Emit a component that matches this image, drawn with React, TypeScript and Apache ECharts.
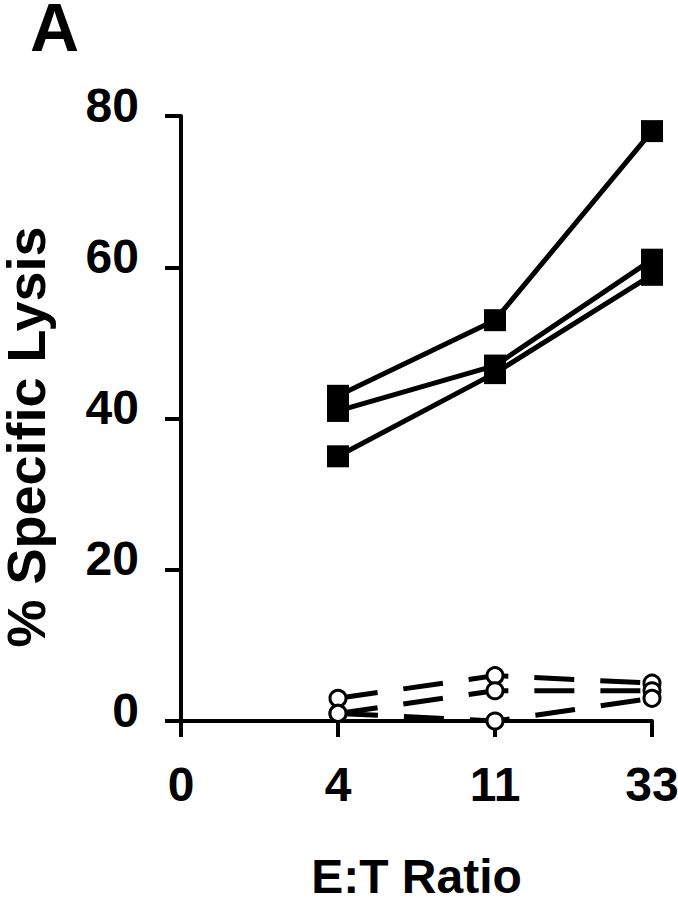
import React, { useEffect, useRef } from "react";
import * as echarts from "echarts";

const categories = ["0", "4", "11", "33"];
const yTicks = [0, 20, 40, 60, 80];

// filled squares, solid lines
const solidA = [null, 43, 53, 78];
const solidB = [null, 41, 47, 61];
const solidC = [null, 35, 46, 59];

// open circles, dashed lines
const dashedD = [null, 3, 6, 5];
const dashedE = [null, 1, 4, 4];
const dashedF = [null, 1, 0, 3];

const FONT = "'Liberation Sans', Arial, sans-serif";

export default function App() {
  const ref = useRef<HTMLDivElement>(null);
  useEffect(() => {
    if (!ref.current) return;
    const chart = echarts.init(ref.current, undefined, { renderer: "svg" });
    const solid = (data: (number | null)[]) => ({
      type: "line",
      data: data.map((v) => (v === null ? "-" : v)),
      symbol: "rect",
      symbolSize: 22,
      lineStyle: { color: "#000", width: 5 },
      itemStyle: { color: "#000", borderWidth: 0 },
      z: 3,
    });
    const dashed = (data: (number | null)[]) => ({
      type: "line",
      data: data.map((v) => (v === null ? "-" : v)),
      symbol: "circle",
      symbolSize: 16,
      showAllSymbol: true,
      lineStyle: { color: "#000", width: 5, type: [40, 26] },
      itemStyle: { color: "#fff", borderColor: "#000", borderWidth: 3 },
      z: 4,
    });
    chart.setOption({
      animation: false,
      backgroundColor: "#fff",
      grid: { left: 181, right: 26, top: 116, bottom: 179, containLabel: false, outerBoundsMode: "none" },
      graphic: [
        {
          type: "text",
          x: 30,
          y: 27,
          style: {
            text: "A",
            font: `bold 68px ${FONT}`,
            lineHeight: 52,
            fill: "#000",
            align: "left",
            verticalAlign: "middle",
          },
        },
        {
          type: "text",
          x: 26,
          y: 437,
          rotation: Math.PI / 2,
          style: {
            text: "% Specific Lysis",
            font: `bold 54px ${FONT}`,
            lineHeight: 48,
            fill: "#000",
            align: "center",
            verticalAlign: "middle",
          },
        },
      ],
      xAxis: {
        type: "category",
        data: categories,
        boundaryGap: false,
        name: "E:T Ratio",
        nameLocation: "middle",
        nameGap: 134,
        nameTextStyle: { fontFamily: FONT, fontWeight: "bold", fontSize: 48, lineHeight: 42, color: "#000" },
        axisLine: { lineStyle: { color: "#000", width: 4 } },
        axisTick: { show: true, length: 16, alignWithLabel: true, lineStyle: { color: "#000", width: 4 } },
        axisLabel: { margin: 39, fontFamily: FONT, fontWeight: "bold", fontSize: 48, color: "#000" },
        splitLine: { show: false },
      },
      yAxis: {
        type: "value",
        min: yTicks[0],
        max: yTicks[yTicks.length - 1],
        interval: 20,
        axisLine: { show: true, lineStyle: { color: "#000", width: 4 } },
        axisTick: { show: true, length: 16, lineStyle: { color: "#000", width: 4 } },
        axisLabel: {
          margin: 42,
          fontFamily: FONT,
          fontWeight: "bold",
          fontSize: 48,
          color: "#000",
          verticalAlign: "bottom",
          lineHeight: 22,
        },
        splitLine: { show: false },
      },
      series: [
        solid(solidA),
        solid(solidB),
        solid(solidC),
        dashed(dashedD),
        dashed(dashedE),
        dashed(dashedF),
      ],
    });
    return () => chart.dispose();
  }, []);
  return (
    <div
      ref={ref}
      style={{ position: "absolute", left: 0, top: 0, width: 678, height: 900, background: "#fff" }}
    />
  );
}
